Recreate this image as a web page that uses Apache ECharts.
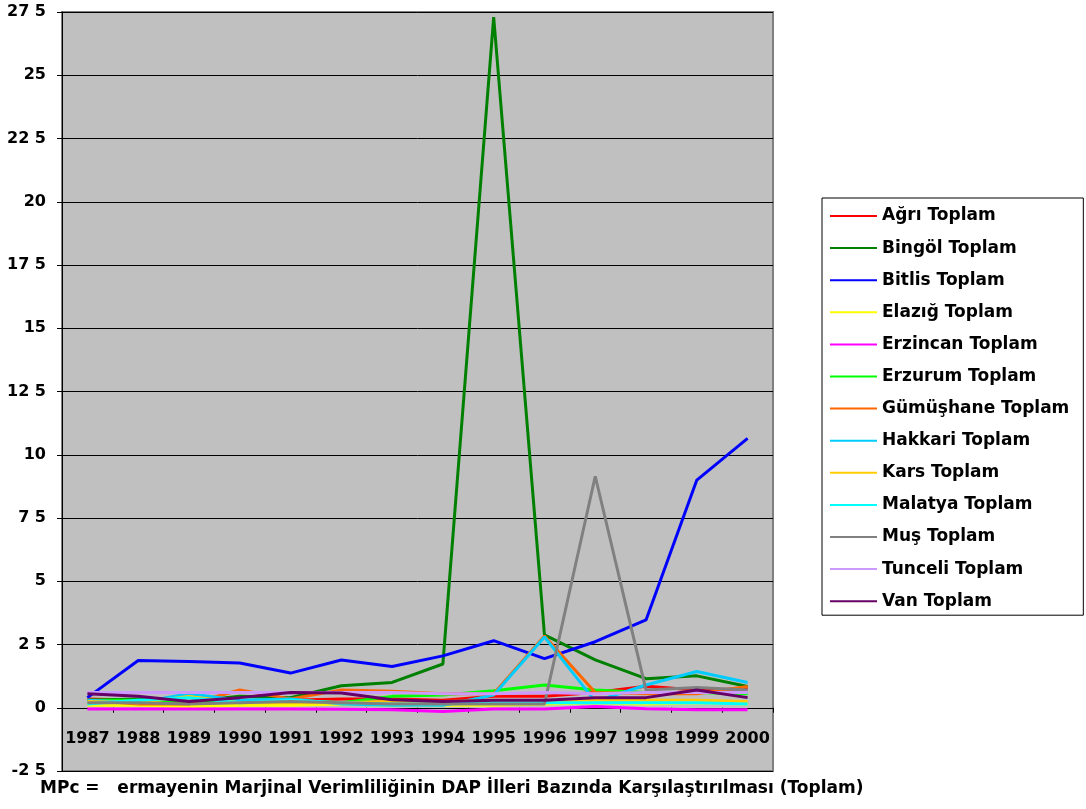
<!DOCTYPE html>
<html>
<head>
<meta charset="utf-8">
<script src="https://cdn.jsdelivr.net/npm/echarts@6/dist/echarts.min.js"></script>
<style>
  html, body { margin: 0; padding: 0; background: #ffffff; }
  #chart { width: 1086px; height: 809px; }
</style>
</head>
<body>
<div id="chart"></div>
<script>
// Years on the category axis
const years = ['1987','1988','1989','1990','1991','1992','1993','1994','1995','1996','1997','1998','1999','2000'];

// Marginal productivity of capital per province (Toplam)
const agri      = [0.35, 0.3, 0.2, 0.25, 0.3, 0.35, 0.35, 0.3, 0.45, 0.45, 0.6, 0.85, 0.7, 0.75];
const bingol    = [0.3, 0.35, 0.25, 0.45, 0.4, 0.87, 1.0, 1.73, 27.3, 2.88, 1.89, 1.15, 1.26, 0.84];
const bitlis    = [0.4, 1.87, 1.83, 1.77, 1.37, 1.89, 1.63, 2.05, 2.65, 1.94, 2.61, 3.47, 9.0, 10.65];
const elazig    = [0.1, 0.1, 0.05, 0.1, 0.1, 0.15, 0.1, 0.1, 0.1, 0.15, 0.2, 0.15, 0.2, 0.15];
const erzincan  = [-0.05, -0.05, -0.05, -0.05, -0.05, -0.06, -0.08, -0.15, -0.05, -0.05, 0.05, -0.04, -0.08, -0.08];
const erzurum   = [0.3, 0.3, 0.2, 0.3, 0.3, 0.2, 0.45, 0.5, 0.67, 0.9, 0.7, 0.6, 0.6, 0.55];
const gumushane = [0.3, 0.15, 0.15, 0.7, 0.35, 0.7, 0.65, 0.55, 0.55, 2.84, 0.6, 0.55, 0.55, 0.84];
const hakkari   = [0.3, 0.2, 0.55, 0.3, 0.35, 0.15, 0.1, 0.1, 0.5, 2.8, 0.25, 0.9, 1.43, 1.0];
const kars      = [0.25, 0.2, 0.45, 0.2, 0.2, 0.2, 0.25, 0.25, 0.3, 0.25, 0.3, 0.3, 0.3, 0.25];
const malatya   = [0.15, 0.3, 0.4, 0.2, 0.3, 0.2, 0.15, 0.15, 0.2, 0.2, 0.2, 0.2, 0.2, 0.15];
const mus       = [0.2, 0.2, 0.15, 0.2, 0.25, 0.2, 0.15, 0.15, 0.15, 0.15, 9.15, 0.7, 0.8, 0.7];
const tunceli   = [0.6, 0.6, 0.6, 0.6, 0.6, 0.6, 0.6, 0.55, 0.55, 0.6, 0.55, 0.6, 0.6, 0.6];
const van       = [0.55, 0.45, 0.25, 0.4, 0.6, 0.58, 0.32, 0.25, 0.3, 0.3, 0.4, 0.4, 0.7, 0.4];

const seriesNames = ['Ağrı Toplam','Bingöl Toplam','Bitlis Toplam','Elazığ Toplam','Erzincan Toplam','Erzurum Toplam',
  'Gümüşhane Toplam','Hakkari Toplam','Kars Toplam','Malatya Toplam','Muş Toplam','Tunceli Toplam','Van Toplam'];
const seriesData = [agri, bingol, bitlis, elazig, erzincan, erzurum, gumushane, hakkari, kars, malatya, mus, tunceli, van];
const seriesColors = ['#ff0000','#008000','#0000ff','#ffff00','#ff00ff','#00ff00','#ff6600','#00ccff','#ffcc00','#00ffff','#808080','#cc99ff','#660066'];

const titleText = 'MPc =   ermayenin Marjinal Verimliliğinin DAP İlleri Bazında Karşılaştırılması (Toplam)';
const FONT = '"DejaVu Sans", "Liberation Sans", sans-serif';

// Plot box and value range
const GRID_TOP = 12, GRID_HEIGHT = 759;
const Y_MIN = -2.5, Y_MAX = 27.5, Y_STEP = 2.5;
// the category axis sits on the zero line, inside the plot
const zeroOffset = -(0 - Y_MIN) / (Y_MAX - Y_MIN) * GRID_HEIGHT;

const chart = echarts.init(document.getElementById('chart'), null, { renderer: 'canvas' });

chart.setOption({
  animation: false,
  backgroundColor: '#ffffff',
  title: {
    text: titleText,
    left: 40,
    top: 780,
    padding: 0,
    textStyle: { fontFamily: FONT, fontSize: 17, fontWeight: 'bold', color: '#000' }
  },
  legend: {
    orient: 'vertical',
    left: 822,
    top: 198,
    padding: [9, 14, 5, 8],
    itemGap: 14.1,
    itemWidth: 47,
    itemHeight: 2,
    icon: 'rect',
    borderColor: '#000',
    borderWidth: 1,
    backgroundColor: '#ffffff',
    textStyle: { fontFamily: FONT, fontSize: 17, lineHeight: 18, fontWeight: 'bold', color: '#000' },
    data: seriesNames
  },
  grid: {
    left: 62,
    top: GRID_TOP,
    width: 711,
    height: GRID_HEIGHT,
    show: true,
    backgroundColor: '#c0c0c0',
    borderColor: '#808080',
    borderWidth: 2
  },
  xAxis: {
    type: 'category',
    data: years,
    boundaryGap: true,
    position: 'bottom',
    offset: zeroOffset,
    axisLine: { onZero: false, lineStyle: { color: '#000', width: 1 } },
    axisTick: { show: true, length: 5, lineStyle: { color: '#000' } },
    axisLabel: { interval: 0, margin: 23, fontFamily: FONT, fontSize: 16, fontWeight: 'bold', color: '#000' },
    splitLine: { show: false }
  },
  yAxis: {
    type: 'value',
    min: Y_MIN,
    max: Y_MAX,
    interval: Y_STEP,
    axisLine: { show: true, lineStyle: { color: '#000', width: 1 } },
    axisTick: { show: true, length: 5, lineStyle: { color: '#000' } },
    axisLabel: {
      margin: 16,
      fontFamily: FONT, fontSize: 16, fontWeight: 'bold', color: '#000',
      formatter: v => String(v).replace('.', ' ')
    },
    splitLine: { show: true, lineStyle: { color: '#000', width: 1 } }
  },
  series: seriesNames.map((name, i) => ({
    name,
    type: 'line',
    data: seriesData[i],
    symbol: 'none',
    lineStyle: { width: 3, color: seriesColors[i] },
    itemStyle: { color: seriesColors[i] },
    z: 2 + i
  }))
});
</script>
</body>
</html>
